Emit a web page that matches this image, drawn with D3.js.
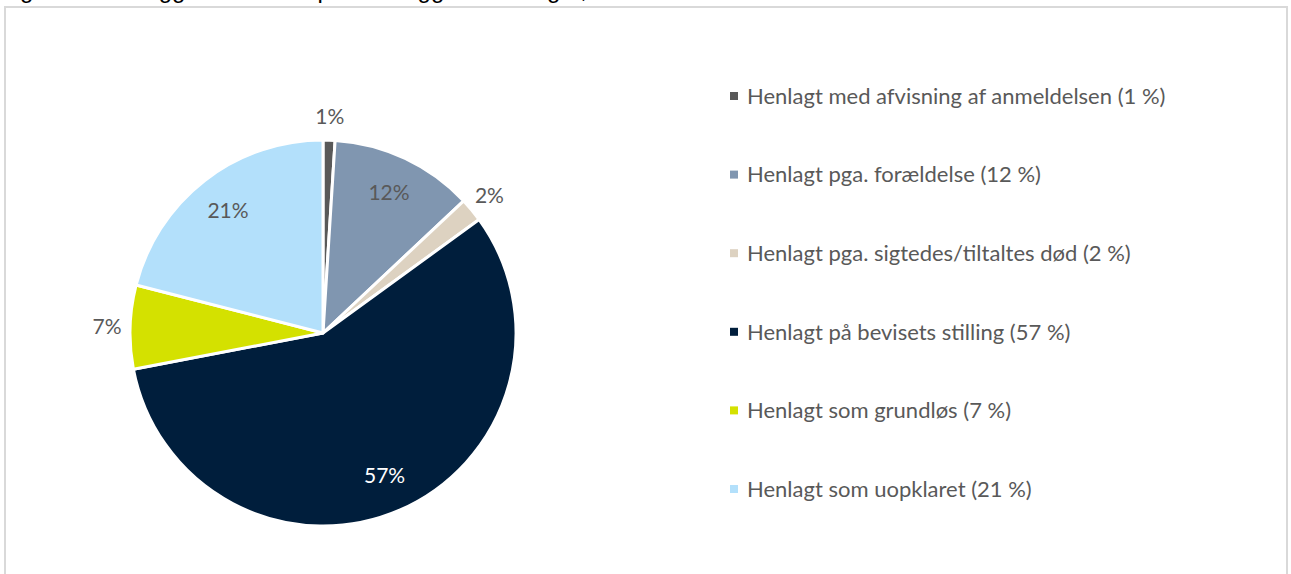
<!DOCTYPE html>
<html>
<head>
<meta charset="utf-8">
<script src="https://cdn.jsdelivr.net/npm/d3@7"></script>
<style>
  body { margin: 0; background: #fff; }
  svg { display: block; }
</style>
</head>
<body>
<div id="main"></div>
<script>
var outerWidth = 1291;
var outerHeight = 574;

// data
var categories = [
  "Henlagt med afvisning af anmeldelsen",
  "Henlagt pga. forældelse",
  "Henlagt pga. sigtedes/tiltaltes død",
  "Henlagt på bevisets stilling",
  "Henlagt som grundløs",
  "Henlagt som uopklaret"
];
var values = [1, 12, 2, 57, 7, 21];
var colors = ["#595959", "#8096b0", "#ddd2c1", "#001e3c", "#d4e100", "#b3e0fb"];
var titleText = "Figur 5. Henlæggelser fordelt på henlæggelsesårsager, %";

var cx = 323;
var cy = 333;
var radius = 193;
var labelFont = "Lato, 'Open Sans', sans-serif";

var data = categories.map((c, i) => ({ name: c, value: values[i], color: colors[i] }));

var svg = d3.select("#main")
    .append("svg")
    .attr("width", outerWidth)
    .attr("height", outerHeight);

// title sits above the visible area, only its descenders show
svg.append("text")
    .attr("x", 0)
    .attr("y", -2)
    .style("font-family", "'Liberation Sans', Arial, sans-serif")
    .style("font-size", "24px")
    .attr("fill", "#000")
    .text(titleText);

svg.append("rect")
    .attr("x", 5)
    .attr("y", 7)
    .attr("width", 1282)
    .attr("height", 590)
    .attr("fill", "none")
    .attr("stroke", "#d9d9d9")
    .attr("stroke-width", 2);

var pie = d3.pie().sort(null).value(d => d.value);
var arc = d3.arc().innerRadius(0).outerRadius(radius);
var inLabel = d3.arc().innerRadius(155).outerRadius(155);
var outLabel = d3.arc().innerRadius(216).outerRadius(216);

var g = svg.append("g")
    .attr("transform", "translate(" + cx + "," + cy + ")");

var arcs = pie(data);

g.selectAll("path")
    .data(arcs)
    .enter()
    .append("path")
    .attr("d", arc)
    .attr("fill", d => d.data.color)
    .attr("stroke", "#fff")
    .attr("stroke-width", 3)
    .attr("stroke-linejoin", "round");

g.selectAll("text.lbl")
    .data(arcs)
    .enter()
    .append("text")
    .attr("class", "lbl")
    .attr("transform", d => "translate(" + (d.data.value < 10 ? outLabel : inLabel).centroid(d) + ")")
    .attr("text-anchor", "middle")
    .attr("dy", "0.35em")
    .style("font-family", labelFont)
    .style("font-size", "21px")
    .attr("fill", d => d.data.value > 50 ? "#fff" : "#595959")
    .text(d => d.data.value + "%");

// legend
var legendX = 730;
var legendY = 96;
var legendStep = 78.6;

var legend = svg.append("g");

var items = legend.selectAll("g")
    .data(data)
    .enter()
    .append("g")
    .attr("transform", (d, i) => "translate(" + legendX + "," + (legendY + i * legendStep) + ")");

items.append("rect")
    .attr("x", 0)
    .attr("y", -4)
    .attr("width", 8)
    .attr("height", 8)
    .attr("fill", d => d.color);

items.append("text")
    .attr("x", 17)
    .attr("dy", "0.35em")
    .style("font-family", labelFont)
    .style("font-size", "22px")
    .attr("fill", "#595959")
    .text(d => d.name + " (" + d.value + " %)");
</script>
</body>
</html>
